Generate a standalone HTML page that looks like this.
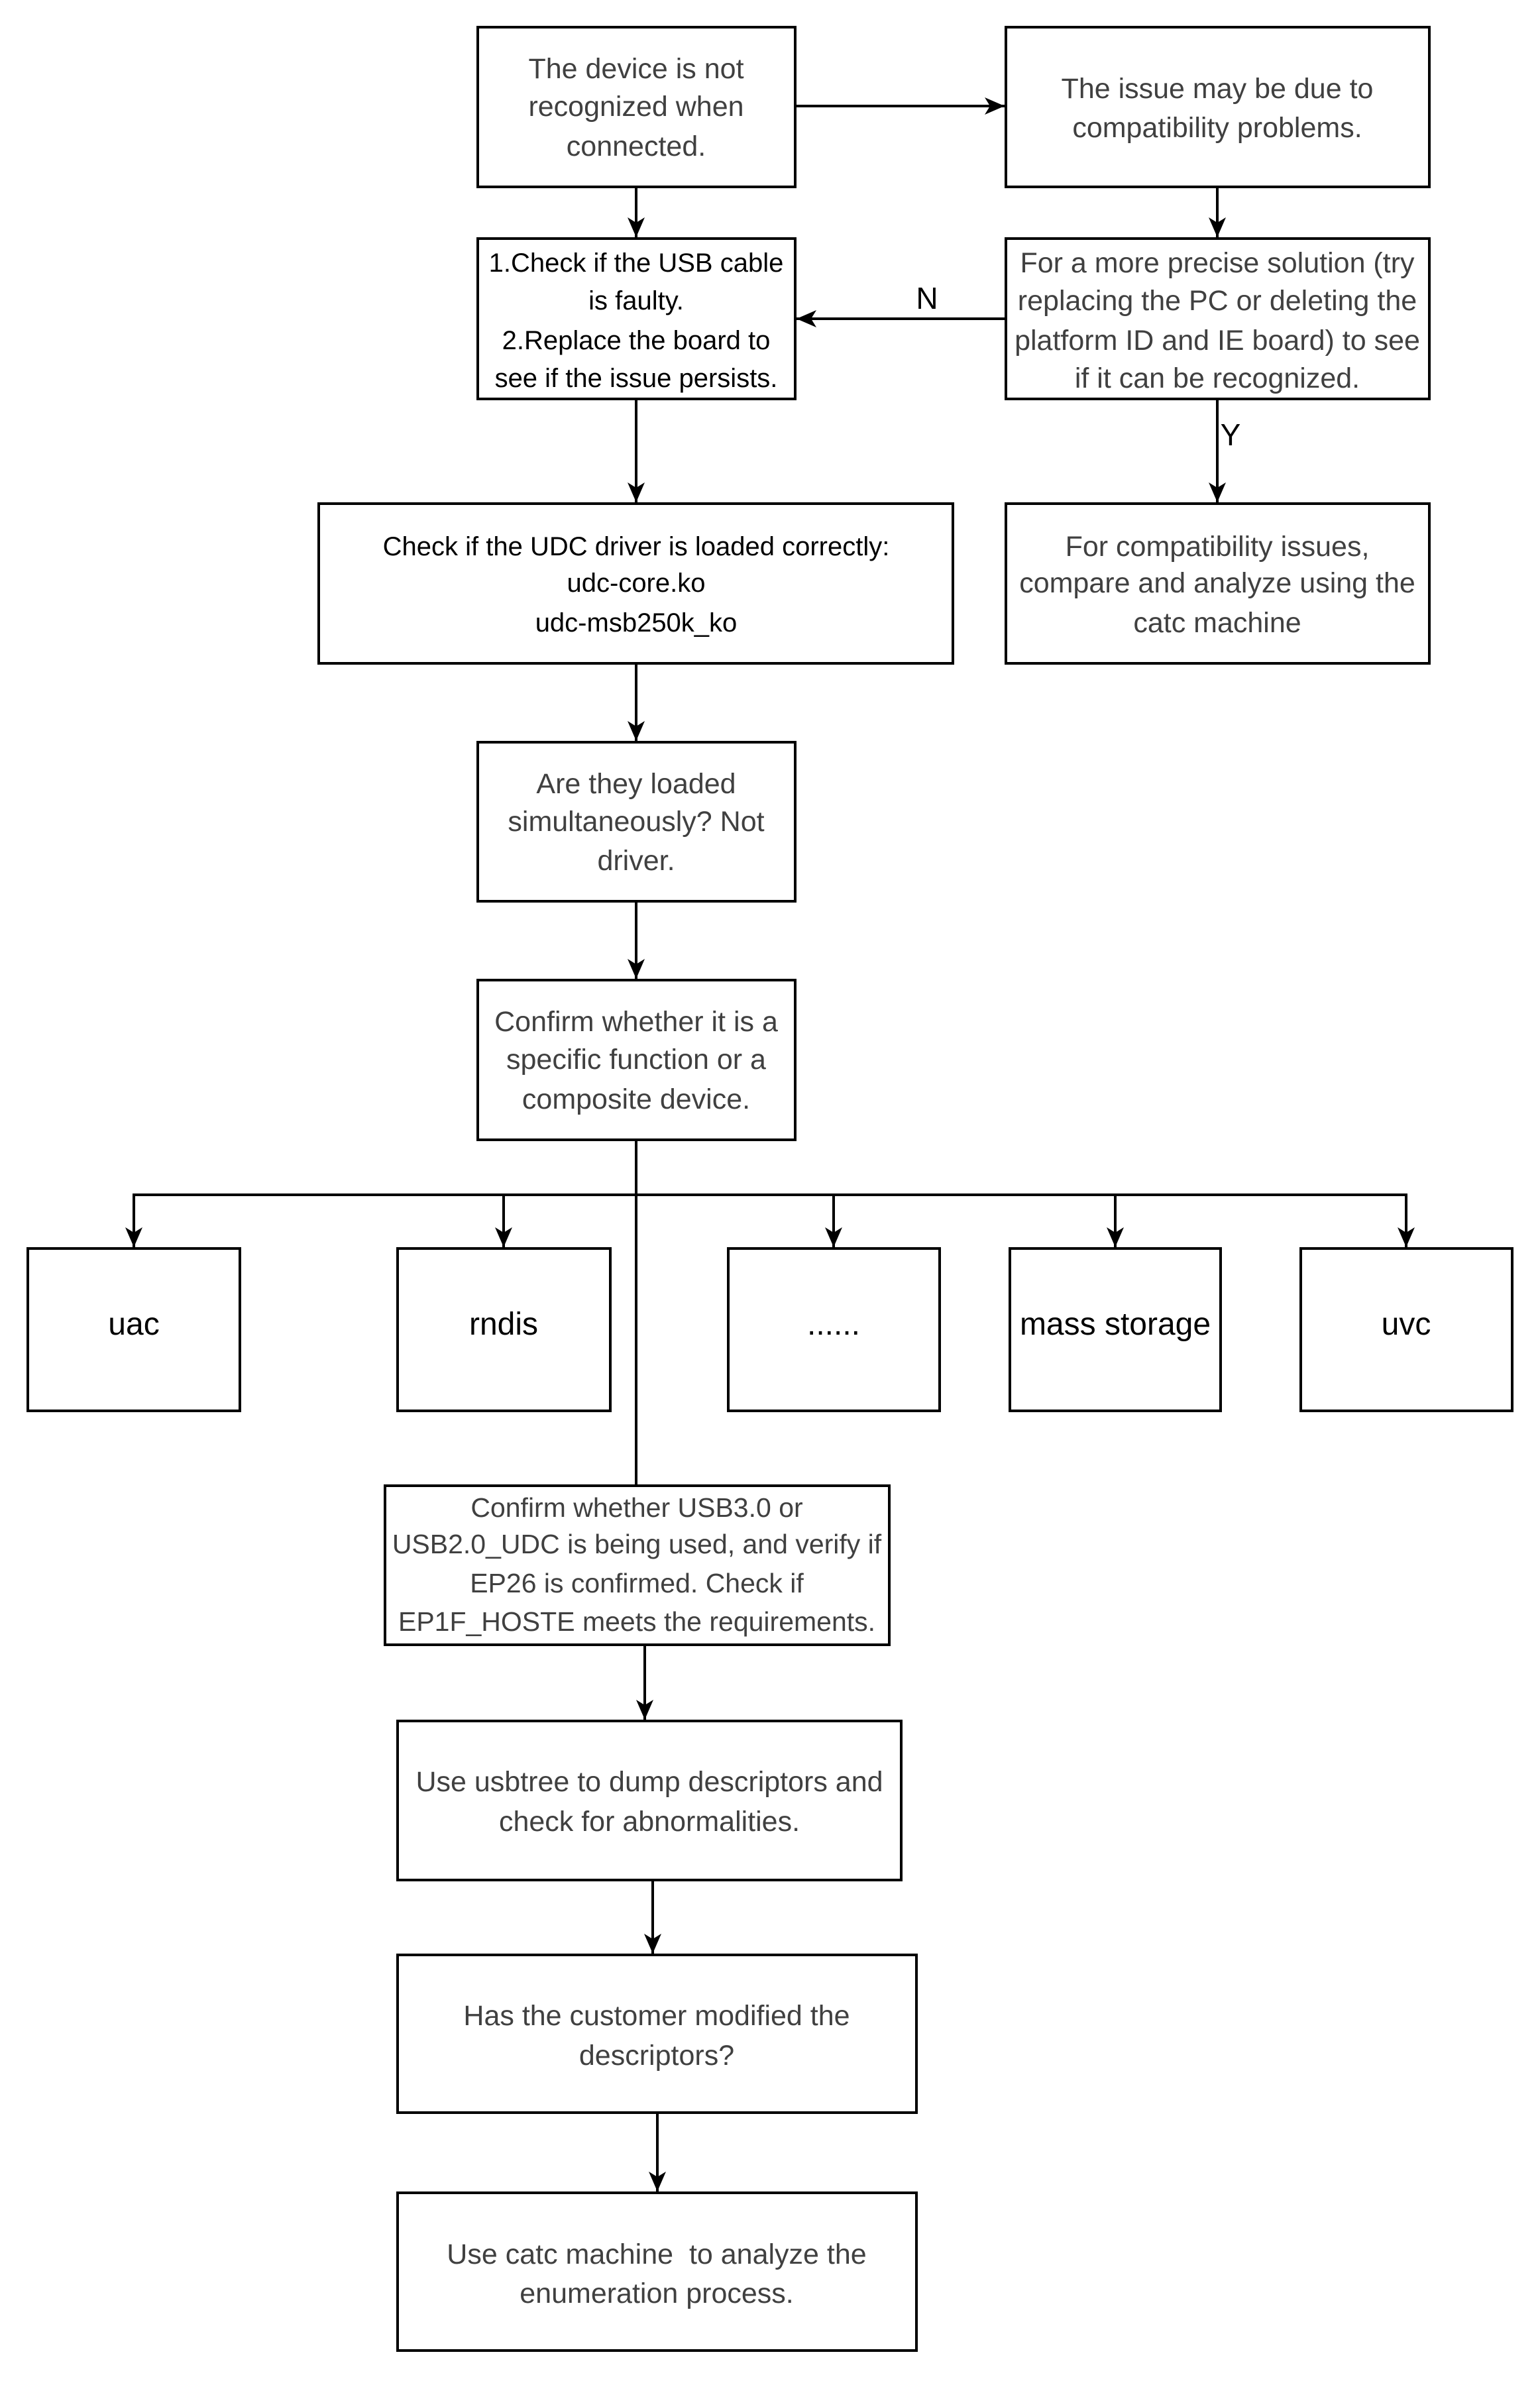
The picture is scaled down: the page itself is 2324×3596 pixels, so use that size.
<!DOCTYPE html>
<html><head><meta charset="utf-8"><style>
html,body{margin:0;padding:0;background:#fff;}
svg{display:block;}
.b{fill:#fff;stroke:#000;stroke-width:4;}
.l{stroke:#000;stroke-width:4;fill:none;}
.t{font-family:"Liberation Sans",Arial,sans-serif;font-size:43px;fill:#404040;text-anchor:middle;}
.u{font-family:"Liberation Sans",Arial,sans-serif;font-size:41px;fill:#404040;text-anchor:middle;}
.a{font-family:"Liberation Sans",Arial,sans-serif;font-size:40px;fill:#000;text-anchor:middle;}
.r{font-family:"Liberation Sans",Arial,sans-serif;font-size:48px;fill:#000;text-anchor:middle;}
</style></head><body>
<svg width="2324" height="3596" viewBox="0 0 2324 3596" xmlns="http://www.w3.org/2000/svg">
<defs>
<marker id="ar" markerUnits="userSpaceOnUse" markerWidth="40" markerHeight="40" refX="30" refY="13" orient="auto">
<path d="M30,13 L0,0 L8,13 L0,26 Z" fill="#000"/>
</marker>
</defs>
<line class="l" x1="1200" y1="160" x2="1516" y2="160" marker-end="url(#ar)"/>
<line class="l" x1="960" y1="282" x2="960" y2="358" marker-end="url(#ar)"/>
<line class="l" x1="1837" y1="282" x2="1837" y2="358" marker-end="url(#ar)"/>
<line class="l" x1="1518" y1="481" x2="1202" y2="481" marker-end="url(#ar)"/>
<line class="l" x1="960" y1="602" x2="960" y2="758" marker-end="url(#ar)"/>
<line class="l" x1="1837" y1="602" x2="1837" y2="758" marker-end="url(#ar)"/>
<line class="l" x1="960" y1="1001" x2="960" y2="1118" marker-end="url(#ar)"/>
<line class="l" x1="960" y1="1360" x2="960" y2="1477" marker-end="url(#ar)"/>
<line class="l" x1="960" y1="1720" x2="960" y2="2242"/>
<polyline class="l" points="202,1882 202,1803 2122,1803 2122,1882"/>
<line class="l" x1="202" y1="1803" x2="202" y2="1882" marker-end="url(#ar)"/>
<line class="l" x1="760" y1="1803" x2="760" y2="1882" marker-end="url(#ar)"/>
<line class="l" x1="1258" y1="1803" x2="1258" y2="1882" marker-end="url(#ar)"/>
<line class="l" x1="1683" y1="1803" x2="1683" y2="1882" marker-end="url(#ar)"/>
<line class="l" x1="2122" y1="1803" x2="2122" y2="1882" marker-end="url(#ar)"/>
<line class="l" x1="973" y1="2482" x2="973" y2="2595" marker-end="url(#ar)"/>
<line class="l" x1="985" y1="2837" x2="985" y2="2948" marker-end="url(#ar)"/>
<line class="l" x1="992" y1="3188" x2="992" y2="3307" marker-end="url(#ar)"/>
<text x="1399" y="466" style="font-family:'Liberation Sans',Arial,sans-serif;font-size:46px;fill:#000;text-anchor:middle;">N</text>
<text x="1857" y="672" style="font-family:'Liberation Sans',Arial,sans-serif;font-size:46px;fill:#000;text-anchor:middle;">Y</text>
<rect class="b" x="721" y="41" width="479" height="241"/>
<text class="t" x="960" y="118">The device is not</text>
<text class="t" x="960" y="175">recognized when</text>
<text class="t" x="960" y="235">connected.</text>
<rect class="b" x="1518" y="41" width="639" height="241"/>
<text class="t" x="1837" y="148">The issue may be due to</text>
<text class="t" x="1837" y="207">compatibility problems.</text>
<rect class="b" x="721" y="360" width="479" height="242"/>
<text class="a" x="960" y="410">1.Check if the USB cable</text>
<text class="a" x="960" y="467">is faulty.</text>
<text class="a" x="960" y="527">2.Replace the board to</text>
<text class="a" x="960" y="584">see if the issue persists.</text>
<rect class="b" x="1518" y="360" width="639" height="242"/>
<text class="t" x="1837" y="411">For a more precise solution (try</text>
<text class="t" x="1837" y="468">replacing the PC or deleting the</text>
<text class="t" x="1837" y="528">platform ID and IE board) to see</text>
<text class="t" x="1837" y="585">if it can be recognized.</text>
<rect class="b" x="481" y="760" width="957" height="241"/>
<text class="a" x="960" y="838">Check if the UDC driver is loaded correctly:</text>
<text class="a" x="960" y="893">udc-core.ko</text>
<text class="a" x="960" y="953">udc-msb250k_ko</text>
<rect class="b" x="1518" y="760" width="639" height="241"/>
<text class="t" x="1837" y="839">For compatibility issues,</text>
<text class="t" x="1837" y="894">compare and analyze using the</text>
<text class="t" x="1837" y="954">catc machine</text>
<rect class="b" x="721" y="1120" width="479" height="240"/>
<text class="t" x="960" y="1197">Are they loaded</text>
<text class="t" x="960" y="1254">simultaneously? Not</text>
<text class="t" x="960" y="1313">driver.</text>
<rect class="b" x="721" y="1479" width="479" height="241"/>
<text class="t" x="960" y="1556">Confirm whether it is a</text>
<text class="t" x="960" y="1613">specific function or a</text>
<text class="t" x="960" y="1673">composite device.</text>
<rect class="b" x="42" y="1884" width="320" height="245"/>
<text class="r" x="202" y="2014">uac</text>
<rect class="b" x="600" y="1884" width="321" height="245"/>
<text class="r" x="760" y="2014">rndis</text>
<rect class="b" x="1099" y="1884" width="319" height="245"/>
<text class="r" x="1258" y="2014">......</text>
<rect class="b" x="1524" y="1884" width="318" height="245"/>
<text class="r" x="1683" y="2014">mass storage</text>
<rect class="b" x="1963" y="1884" width="319" height="245"/>
<text class="r" x="2122" y="2014">uvc</text>
<rect class="b" x="581" y="2242" width="761" height="240"/>
<text class="u" x="961" y="2289">Confirm whether USB3.0 or</text>
<text class="u" x="961" y="2344">USB2.0_UDC is being used, and verify if</text>
<text class="u" x="961" y="2403">EP26 is confirmed. Check if</text>
<text class="u" x="961" y="2461">EP1F_HOSTE meets the requirements.</text>
<rect class="b" x="600" y="2597" width="760" height="240"/>
<text class="t" x="980" y="2703">Use usbtree to dump descriptors and</text>
<text class="t" x="980" y="2763">check for abnormalities.</text>
<rect class="b" x="600" y="2950" width="783" height="238"/>
<text class="t" x="991" y="3056">Has the customer modified the</text>
<text class="t" x="991" y="3116">descriptors?</text>
<rect class="b" x="600" y="3309" width="783" height="238"/>
<text class="t" x="991" y="3416" xml:space="preserve">Use catc machine  to analyze the</text>
<text class="t" x="991" y="3475">enumeration process.</text>
</svg>
</body></html>
